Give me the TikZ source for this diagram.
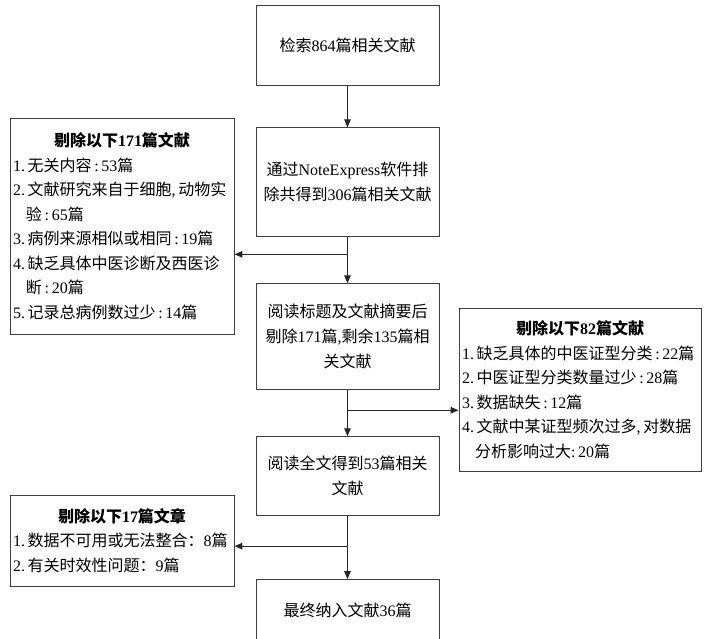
\documentclass[tikz,border=0pt]{standalone}
\usepackage{fontspec}
\setmainfont{Noto Sans CJK SC}
\newfontfamily\latin{Liberation Serif}
\newcommand{\lat}[1]{{\latin #1}}
\usetikzlibrary{positioning, arrows.meta}

\tikzset{
  box/.style={draw=black!75, line width=0.9pt, align=center, text width=176pt, inner xsep=3.5pt, font=\fontsize{16}{25}\selectfont},
  sidebox/.style={draw=black!75, line width=0.9pt, align=left, inner xsep=3pt, font=\fontsize{16}{24.5}\selectfont},
  arr/.style={draw=black!85, line width=1.1pt, -{Triangle[length=8pt,width=6.5pt]}}
}

\begin{document}
\begin{tikzpicture}[x=1pt,y=-1pt]
\useasboundingbox (0,0) rectangle (705,639);
% main column
\node[box, minimum height=80pt] (b1) at (347.5,45) {检索\lat{864}篇相关文献};
\node[box, minimum height=109pt, below=42pt of b1] (b2) {通过\lat{NoteExpress}软件排\\除共得到\lat{306}篇相关文献};
\node[box, minimum height=106pt, below=46pt of b2] (b3) {阅读标题及文献摘要后\\剔除\lat{171}篇\lat{,}剩余\lat{135}篇相\\关文献};
\node[box, minimum height=79pt, below=46pt of b3] (b4) {阅读全文得到\lat{53}篇相关\\文献};
\node[box, minimum height=61pt, below=63pt of b4] (b5) {最终纳入文献\lat{36}篇};
% excluded records
\node[sidebox, text width=218pt, minimum height=216pt] (l1) at (122,226) {\makebox[\linewidth]{\bfseries 剔除以下\lat{171}篇文献}\\
\lat{1.\,}无关内容\lat{\,:\,53}篇\\
\lat{2.\,}文献研究来自于细胞\lat{,\,}动物实\\
\hspace*{13pt}验\lat{\,:\,65}篇\\
\lat{3.\,}病例来源相似或相同\lat{\,:\,19}篇\\
\lat{4.\,}缺乏具体中医诊断及西医诊\\
\hspace*{13pt}断\lat{\,:\,20}篇\\
\lat{5.\,}记录总病例数过少\lat{\,:\,14}篇};
\node[sidebox, text width=236pt, minimum height=163pt] (r1) at (580,389.5) {\makebox[\linewidth]{\bfseries 剔除以下\lat{82}篇文献}\\
\lat{1.\,}缺乏具体的中医证型分类\lat{\,:\,22}篇\\
\lat{2.\,}中医证型分类数量过少\lat{\,:\,28}篇\\
\lat{3.\,}数据缺失\lat{\,:\,12}篇\\
\lat{4.\,}文献中某证型频次过多\lat{,\,}对数据\\
\hspace*{13pt}分析影响过大\lat{:\,20}篇};
\node[sidebox, text width=218pt, minimum height=91pt] (l2) at (122,540.5) {\makebox[\linewidth]{\bfseries 剔除以下\lat{17}篇文章}\\
\lat{1.\,}数据不可用或无法整合：\lat{8}篇\\
\lat{2.\,}有关时效性问题：\lat{9}篇};
% connectors
\coordinate (j1) at ([yshift=-17pt]b2.south);
\coordinate (j2) at ([yshift=-20pt]b3.south);
\coordinate (j3) at ([yshift=-30pt]b4.south);
\draw[arr] (b1) -- (b2);
\draw[arr] (b2) -- (b3);
\draw[arr] (b3) -- (b4);
\draw[arr] (b4) -- (b5);
\draw[arr] (j1) -- (j1 -| l1.east);
\draw[arr] (j2) -- (j2 -| r1.west);
\draw[arr] (j3) -- (j3 -| l2.east);
\end{tikzpicture}
\end{document}
